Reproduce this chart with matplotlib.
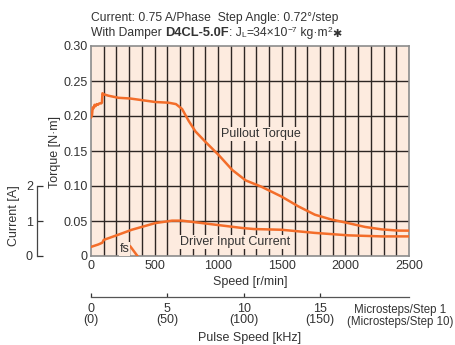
import matplotlib
matplotlib.use("Agg")
import matplotlib.pyplot as plt
from matplotlib import font_manager

# fonts: narrow sans if present
names = {f.name for f in font_manager.fontManager.ttflist}
base = 'Liberation Sans Narrow' if 'Liberation Sans Narrow' in names else 'Liberation Sans'
plt.rcParams['font.family'] = [base, 'DejaVu Sans']
plt.rcParams['font.size'] = 9

# ---- data ----
speed_torque = [0, 8, 13, 20, 28, 36, 45, 55, 65, 80, 86, 90, 100, 137, 216, 308, 505, 610, 668,
                716, 768, 821, 900, 1005, 1110, 1216, 1339, 1497, 1629, 1760, 1892, 1997, 2155,
                2287, 2418, 2500]
torque = [0.198, 0.201, 0.212, 0.211, 0.216, 0.214, 0.217, 0.216, 0.218, 0.218, 0.219, 0.2325,
          0.231, 0.229, 0.226, 0.225, 0.220, 0.219, 0.217, 0.210, 0.193, 0.178, 0.163, 0.144,
          0.123, 0.108, 0.099, 0.085, 0.071, 0.059, 0.052, 0.048, 0.0415, 0.038, 0.0363, 0.0362]

speed_current = [0, 58, 89, 100, 216, 321, 505, 637, 716, 874, 1032, 1189, 1282, 1497, 1760,
                 2024, 2287, 2500]
current = [0.26, 0.33, 0.38, 0.46, 0.61, 0.75, 0.94, 1.01, 1.01, 0.94, 0.87, 0.80, 0.77, 0.75,
           0.66, 0.59, 0.56, 0.56]

fs_speed = [310, 400]
fs_torque = [0.0135, -0.0086]

torque_ticks = [0, 0.05, 0.10, 0.15, 0.20, 0.25, 0.30]
torque_labels = ['0', '0.05', '0.10', '0.15', '0.20', '0.25', '0.30']
speed_ticks = [0, 500, 1000, 1500, 2000, 2500]
current_ticks = [0, 1, 2]
pulse_ticks = [0, 5, 10, 15]
pulse_labels = ['0\n(0)', '5\n(50)', '10\n(100)', '15\n(150)']

orange = '#f36d2a'
grid_col = '#2e2624'
txt = '#333333'
bg = '#fdebdf'

fig = plt.figure(figsize=(4.55, 3.45), dpi=100)
ax = fig.add_axes([91/455, 1-256/345, 318/455, 210/345])
ax.set_facecolor(bg)
ax.set_xlim(0, 2500)
ax.set_ylim(0, 0.30)

# grid: every 100 r/min and every 0.05 N·m
for s in range(100, 2500, 100):
    ax.axvline(s, color=grid_col, lw=1.0, zorder=1)
for t in torque_ticks[1:-1]:
    ax.axhline(t, color=grid_col, lw=1.0, zorder=1)

for sp in ax.spines.values():
    sp.set_color('#8c8c8c')
    sp.set_linewidth(1.2)

ax.set_xticks(speed_ticks)
ax.set_yticks(torque_ticks, torque_labels)
ax.tick_params(axis='x', length=0, pad=3, colors=txt)
ax.tick_params(axis='y', length=0, pad=2.5, colors=txt)

ax.plot(speed_torque, torque, color=orange, lw=1.8, zorder=3, solid_joinstyle='round')
ax.plot(fs_speed, fs_torque, color=orange, lw=1.8, zorder=3)

box = dict(facecolor=bg, edgecolor='none', pad=0.6)
ax.text(1336, 0.174, 'Pullout Torque', color=txt, ha='center', va='center', bbox=box, zorder=4)
ax.text(1132, 0.0205, 'Driver Input Current', color=txt, ha='center', va='center', bbox=box, zorder=4)
ax.text(263, 0.0095, 'fs', color=txt, ha='center', va='center', bbox=box, zorder=4)

# current axis (0-2 A over lower third)
ax2 = ax.twinx()
ax2.set_ylim(0, 6)
for k in ['right', 'top', 'bottom']:
    ax2.spines[k].set_visible(False)
ax2.yaxis.set_ticks_position('left')
ax2.spines['left'].set_position(('outward', 54*0.72))
ax2.spines['left'].set_bounds(0, 2)
ax2.spines['left'].set_color('#444444')
ax2.spines['left'].set_linewidth(0.9)
ax2.set_yticks(current_ticks)
ax2.tick_params(axis='y', direction='in', length=4, width=0.9, pad=3, colors=txt)
ax2.plot(speed_current, current, color=orange, lw=1.8, zorder=3, solid_joinstyle='round')

fig.text(55/455, 1-152/345, 'Torque [N·m]', rotation=90, ha='center', va='center', color=txt)
fig.text(14/455, 1-216/345, 'Current [A]', rotation=90, ha='center', va='center', color=txt)
fig.text(250/455, 1-282/345, 'Speed [r/min]', ha='center', va='center', color=txt)

# pulse speed axis
ax3 = fig.add_axes([91/455, 1-297/345, 318/455, 0.0001])
ax3.set_xlim(0, 2500/120)
ax3.set_ylim(0, 1)
ax3.patch.set_visible(False)
for k in ['left', 'right', 'top']:
    ax3.spines[k].set_visible(False)
ax3.spines['bottom'].set_color('#555555')
ax3.spines['bottom'].set_linewidth(0.9)
ax3.set_yticks([])
ax3.set_xticks(pulse_ticks, pulse_labels)
ax3.tick_params(axis='x', direction='in', length=3, width=0.9, pad=4, colors=txt)
for lbl in ax3.get_xticklabels():
    lbl.set_linespacing(0.95)

fig.text(453/455, 1-316/345, 'Microsteps/Step 1\n(Microsteps/Step 10)', ha='right', va='center',
         multialignment='center', linespacing=0.95, color=txt, fontsize=8.3)
fig.text(250/455, 1-338/345, 'Pulse Speed [kHz]', ha='center', va='center', color=txt)

# title lines
fig.text(91/455, 1-18/345, 'Current: 0.75 A/Phase  Step Angle: 0.72°/step', ha='left', va='center',
         color=txt, fontsize=8.7)
t0 = fig.text(91/455, 1-33/345, 'With Damper ', ha='left', va='center', color=txt, fontsize=8.7)
# (text, style, raised?)
parts = [
    ('D4CL-5.0F', dict(family=['Liberation Sans', 'DejaVu Sans'], weight='bold', size=9.3), False),
    (': J', dict(size=8.7), False),
    ('L', dict(size=6), False),
    ('=34×10', dict(size=8.7), False),
    ('−7', dict(size=6), True),
    (' kg·m', dict(size=8.7), False),
    ('2', dict(size=6), True),
    ('✱', dict(family=['DejaVu Sans'], size=8, weight='bold'), False),
]
prev = t0
base_prev = t0
for s, kw, raised in parts:
    t = ax.annotate(s, xy=(1, 0.45 if raised else 0), xycoords=(prev, base_prev),
                    ha='left', va='bottom', color=txt, annotation_clip=False, **kw)
    prev = t
    if not raised:
        base_prev = t

fig.savefig('out.png', dpi=100)
